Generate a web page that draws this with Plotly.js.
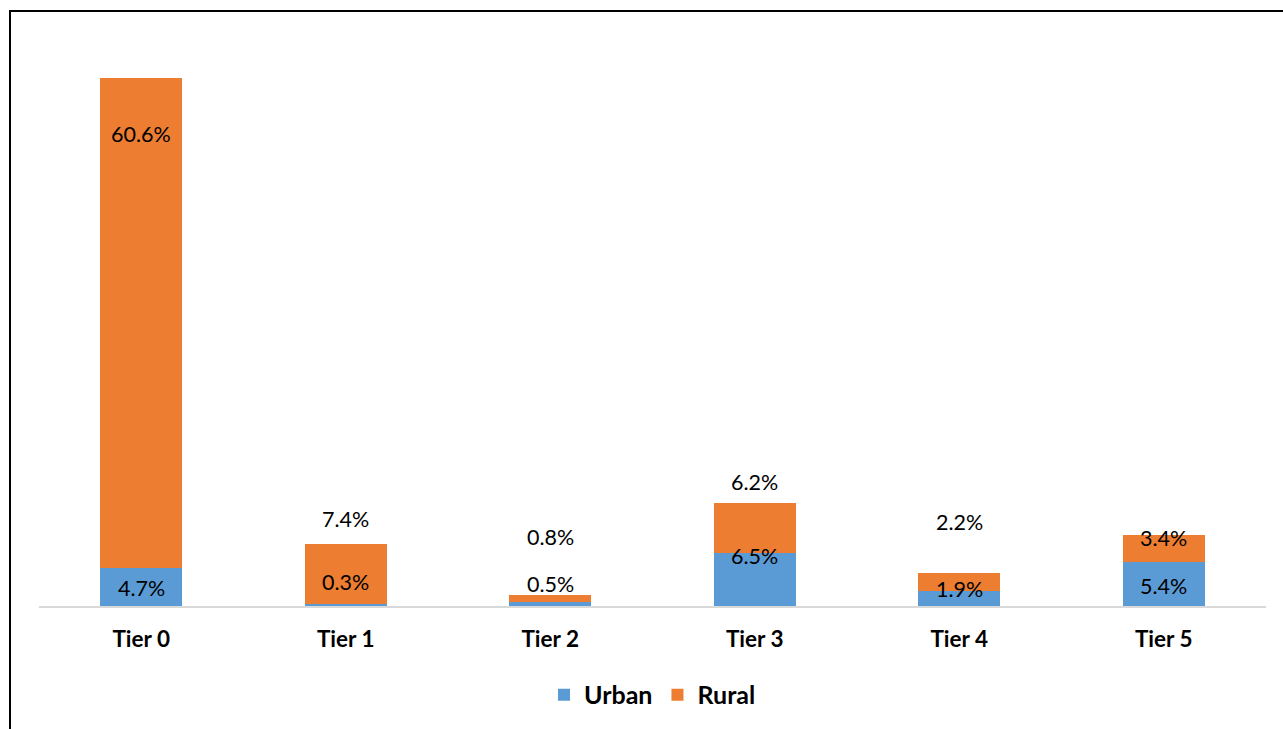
<!DOCTYPE html>
<html>
<head>
<meta charset="utf-8">
<script src="https://cdn.plot.ly/plotly-3.0.1.min.js"></script>
<style>
  html, body { margin: 0; padding: 0; background: #fff; overflow: hidden; }
  #chart { width: 1283px; height: 729px; }
  #frame { position: absolute; left: 9px; top: 10px; width: 1300px; height: 740px;
           border-top: 2px solid #000; border-left: 2px solid #000; pointer-events: none; }
</style>
</head>
<body>
<div id="chart"></div>
<div id="frame"></div>
<script>
// Data
const categories = ["Tier 0", "Tier 1", "Tier 2", "Tier 3", "Tier 4", "Tier 5"];
const urban = [4.7, 0.3, 0.5, 6.5, 1.9, 5.4];
const rural = [60.6, 7.4, 0.8, 6.2, 2.2, 3.4];
// label offsets (px) relative to the top of each segment, as placed in the original
const urbanLabelShift = [-20, 22, 18, -3, 2, -24];
const ruralLabelShift = [-56, 25, 58, 21, 51, -3];

const FONT = "Lato, 'Open Sans', sans-serif";

const traces = [
  { type: "bar", name: "Urban", x: categories, y: urban,
    marker: { color: "#5B9BD5" }, hoverinfo: "skip" },
  { type: "bar", name: "Rural", x: categories, y: rural,
    marker: { color: "#ED7D31" }, hoverinfo: "skip" }
];

const annotations = [];
categories.forEach((c, i) => {
  annotations.push({ x: c, y: urban[i], xref: "x", yref: "y",
    text: urban[i].toFixed(1) + "%", showarrow: false, yanchor: "middle",
    yshift: urbanLabelShift[i], font: { family: FONT, size: 21.5, color: "#000" } });
  annotations.push({ x: c, y: urban[i] + rural[i], xref: "x", yref: "y",
    text: rural[i].toFixed(1) + "%", showarrow: false, yanchor: "middle",
    yshift: ruralLabelShift[i], font: { family: FONT, size: 21.5, color: "#000" } });
});

const layout = {
  width: 1283, height: 729,
  margin: { l: 39, r: 17, t: 30, b: 122 },
  paper_bgcolor: "#fff", plot_bgcolor: "#fff",
  barmode: "stack", bargap: 0.6,
  showlegend: true,
  legend: { orientation: "h", x: 0.5, xanchor: "center", y: -0.1525, yanchor: "middle",
            font: { family: FONT, size: 25, color: "#000", weight: "bold" },
            itemclick: false, traceorder: "normal", itemwidth: 30 },
  xaxis: { type: "category", showline: true, linecolor: "#D9D9D9", linewidth: 2,
           showgrid: false, zeroline: false, ticks: "outside", ticklen: 12,
           tickcolor: "rgba(0,0,0,0)",
           tickfont: { family: FONT, size: 22.5, color: "#000", weight: "bold" } },
  yaxis: { range: [0, 71.2], visible: false, showgrid: false, zeroline: false },
  annotations: annotations
};

Plotly.newPlot("chart", traces, layout, { displayModeBar: false, staticPlot: true });
</script>
</body>
</html>
